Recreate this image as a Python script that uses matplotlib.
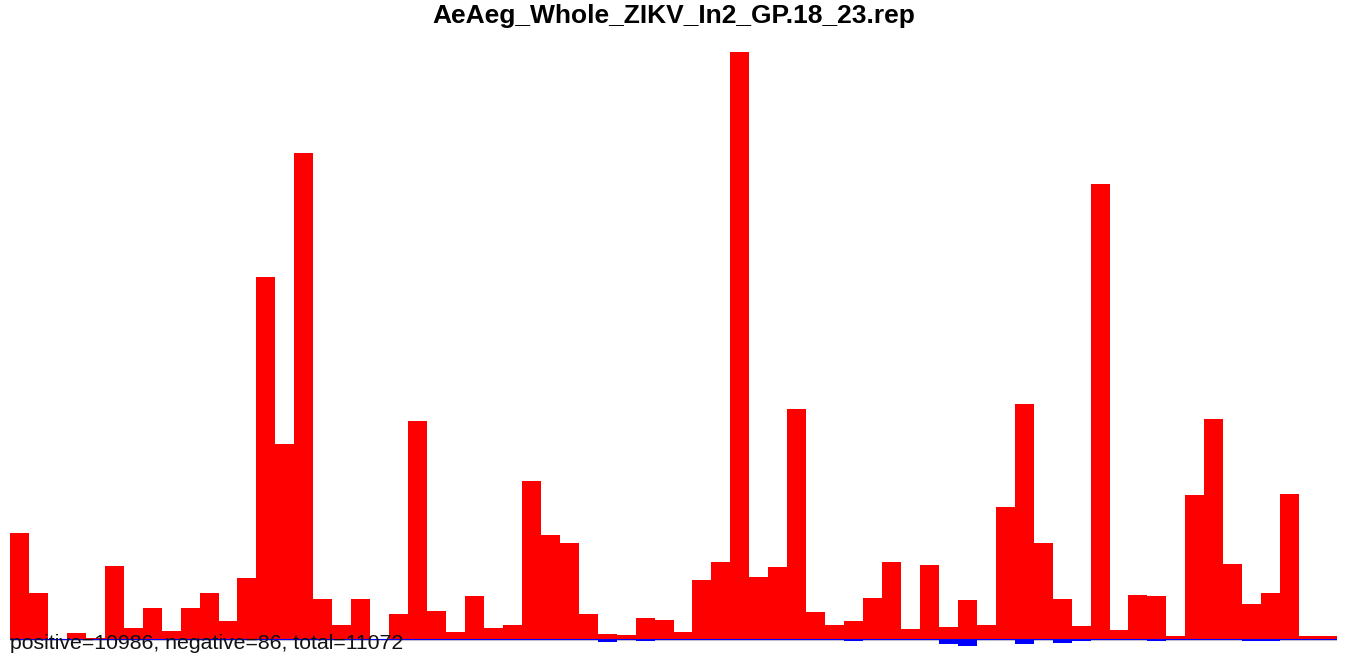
import matplotlib
matplotlib.use("Agg")
import matplotlib.pyplot as plt
import numpy as np

title = "AeAeg_Whole_ZIKV_In2_GP.18_23.rep"
summary = "positive=10986, negative=86, total=11072"

positive = [212, 92, 0, 12, 3, 146, 22, 62, 16, 62,
            92, 36, 122, 724, 390, 972, 80, 28, 80, 0,
            50, 436, 56, 14, 86, 22, 28, 316, 208, 192,
            50, 10, 8, 42, 38, 14, 118, 154, 1174, 124,
            144, 460, 54, 28, 36, 82, 154, 20, 148, 24,
            78, 28, 264, 470, 192, 80, 26, 910, 18, 88,
            86, 6, 288, 440, 150, 70, 92, 290, 6, 6]
negative = [0, 0, 0, 0, 0, 0, 0, 0, 0, 0,
            0, 0, 0, 0, 0, 0, 0, 0, 0, 0,
            0, 0, 0, 0, 0, 0, 0, 0, 0, 0,
            0, -5, 0, -3, 0, 0, 0, 0, 0, 0,
            0, 0, 0, 0, -3, 0, 0, 0, 0, -10,
            -13, 0, 0, -10, 0, -7, -3, 0, 0, 0,
            -3, 0, 0, 0, 0, -3, -3, 0, 0, 0]

W, H = 1345, 658
fig = plt.figure(figsize=(W / 100, H / 100), dpi=100)
ax = fig.add_axes([10 / W, 0, 1327 / W, 628 / H])
x = np.arange(len(positive))
ax.bar(x, positive, width=1.0, align="edge", color="#FF0000", linewidth=0, zorder=2)
ax.bar(x, negative, width=1.0, align="edge", color="#0000FF", linewidth=0, zorder=2)
ax.axhline(-1.8, color="#cccccc", lw=0.8, zorder=1)
ax.axhline(0, color="#0000FF", lw=0.8, zorder=3)
ax.set_xlim(0, len(positive))
ax.set_ylim(-38, 1218)
ax.axis("off")

fig.text(674 / W, 1 - 16 / H, title, ha="center", va="center",
         fontsize=19, fontweight="bold", family="Liberation Sans")
fig.text(10 / W, 1 - 649 / H, summary, ha="left", va="baseline",
         fontsize=15.3, family="Liberation Sans", color="#111111", zorder=5)

fig.savefig("out.png", dpi=100)
